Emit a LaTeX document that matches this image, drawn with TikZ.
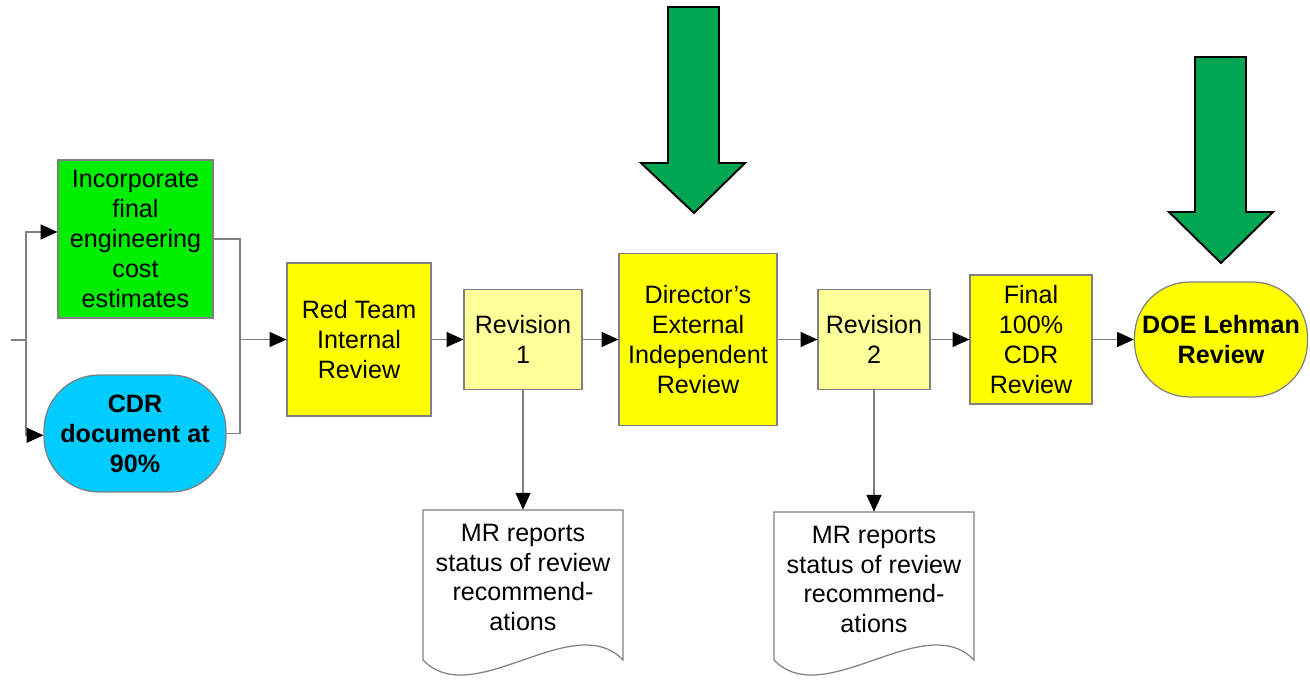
\documentclass[tikz,border=0pt]{standalone}
\usepackage{fontspec}
\setmainfont{Liberation Sans}
\usetikzlibrary{arrows.meta, positioning}

\definecolor{boxgreen}{RGB}{0,238,0}
\definecolor{boxblue}{RGB}{0,204,255}
\definecolor{boxyellow}{RGB}{255,255,0}
\definecolor{paleyellow}{RGB}{255,255,153}
\definecolor{arrowgreen}{RGB}{0,166,81}
\definecolor{linegray}{RGB}{128,128,128}

\tikzstyle{wire} = [draw=linegray, line width=0.6pt]
\tikzstyle{line} = [wire, -{Triangle[length=9.5pt,width=8.5pt,color=black]}]

\begin{document}
\begin{tikzpicture}[x=0.02cm, y=-0.02cm,
          every node/.style = {font=\fontsize{14.3}{17}\selectfont, align=center, inner sep=0pt},
          box/.style = {draw=linegray, line width=0.7pt},
          stadium/.style = {box, rounded corners=1.1cm, font=\fontsize{14.3}{17}\selectfont\bfseries},
          docline/.style = {draw=linegray, line width=0.7pt, fill=white},
          bigarrow/.style = {draw=black, fill=arrowgreen, line width=1.1pt, line join=miter}
      ]
  \useasboundingbox (0,0) rectangle (1310,679);

  % Draw the first stage.
  \node[box, fill=boxgreen, minimum width=3.1cm, minimum height=3.16cm] (incorporate) at (135.5, 239) {Incorporate\\final\\engineering\\cost\\estimates};
  \node[stadium, fill=boxblue, minimum width=3.64cm, minimum height=2.34cm] (cdr) at (135, 433.5) {CDR\\document at\\90\%};

  \coordinate (entry) at (11, 340);
  \coordinate (split) at (26, 340);
  \coordinate (merge) at (240, 339.5);

  % Draw the review chain.
  \node[box, fill=boxyellow, minimum width=2.88cm, minimum height=3.06cm] (redteam) at (359, 339.5) {Red Team\\Internal\\Review};
  \node[box, fill=paleyellow, minimum width=2.36cm, minimum height=2cm] (rev1) at (523, 339.5) {Revision\\1};
  \node[box, fill=boxyellow, minimum width=3.16cm, minimum height=3.44cm] (director) at (698, 339.5) {Director's\\External\\Independent\\Review};
  \node[box, fill=paleyellow, minimum width=2.24cm, minimum height=2cm] (rev2) at (874, 339.5) {Revision\\2};
  \node[box, fill=boxyellow, minimum width=2.44cm, minimum height=2.58cm] (final) at (1031, 339.5) {Final\\100\%\\CDR\\Review};
  \node[stadium, fill=boxyellow, minimum width=3.46cm, minimum height=2.3cm] (lehman) at (1221, 339.5) {DOE Lehman\\Review};

  % Draw the report sheets.
  \draw[docline] (423,660) -- (423,510) -- (623,510) -- (623,660) .. controls (573,608) and (473,712) .. (423,660) -- cycle;
  \draw[docline] (774,660) -- (774,512) -- (974,512) -- (974,660) .. controls (924,608) and (824,712) .. (774,660) -- cycle;
  \node[minimum width=4cm, minimum height=2.7cm] (report1) at (523, 577.5) {MR reports\\status of review\\recommend-\\ations};
  \node[minimum width=4cm, minimum height=2.7cm] (report2) at (874, 579.5) {MR reports\\status of review\\recommend-\\ations};

  % Draw the green markers.
  \draw[bigarrow] (668,7) -- (719,7) -- (719,163) -- (745,163) -- (694,213) -- (641,163) -- (668,163) -- cycle;
  \draw[bigarrow] (1195,57) -- (1246,57) -- (1246,212) -- (1273,212) -- (1221,263) -- (1169,212) -- (1195,212) -- cycle;

  % Connect vertices with edges
  \draw[wire] (entry) -- (split);
  \draw[line] (split) |- ([yshift=4pt]incorporate.west);
  \draw[line] (split) |- ([yshift=-1pt]cdr.west);
  \draw[wire] (incorporate.east) -| (merge);
  \draw[wire] (cdr.east) -| (merge);
  \draw[line] (merge) -- (redteam.west);

  \draw[line] (redteam) -- (rev1);
  \draw[line] (rev1) -- (director);
  \draw[line] (director) -- (rev2);
  \draw[line] (rev2) -- (final);
  \draw[line] (final) -- (lehman);

  \draw[line] (rev1) -- (report1);
  \draw[line] (rev2) -- (report2);
\end{tikzpicture}
\end{document}
